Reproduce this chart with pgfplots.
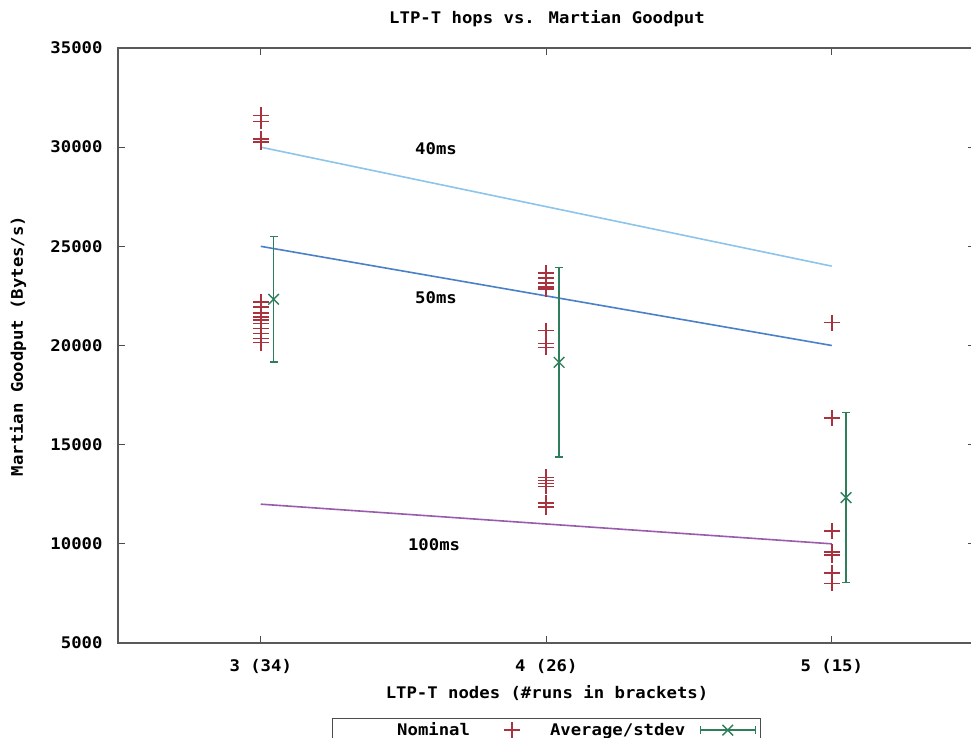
\documentclass[border=0pt]{standalone}
\usepackage{fontspec}
\setmainfont{DejaVu Sans Mono}[FakeStretch=1.08]
\usepackage{pgfplots}
\pgfplotsset{compat=1.18}
\definecolor{nomred}{HTML}{A8323E}
\definecolor{avggreen}{HTML}{2E7D5B}
\definecolor{c40}{HTML}{8CC4EC}
\definecolor{c50}{HTML}{4A80C8}
\definecolor{c100}{HTML}{9A5AAE}
\pgfplotsset{
  nomleg/.style={legend image code/.code={
    \path[draw=none] (0pt,0pt) -- (80pt,0pt);
    \draw[##1, only marks] plot coordinates {(42pt,0pt)};}},
  avgleg/.style={legend image code/.code={
    \path[draw=none] (0pt,0pt) -- (75pt,0pt);
    \draw[avggreen, line width=1.4pt] (15pt,-4pt) -- (15pt,4pt) (15pt,0pt) -- (70pt,0pt) (70pt,-4pt) -- (70pt,4pt);
    \draw[##1, only marks] plot coordinates {(42.5pt,0pt)};}},
}
\begin{document}
\fontsize{16}{19}\selectfont\bfseries
\begin{tikzpicture}
\useasboundingbox (0pt,0pt) rectangle (971pt,738pt);
\begin{axis}[
  at={(118pt,95pt)}, anchor=south west,
  scale only axis, width=856.5pt, height=595pt,
  xmin=2.5, xmax=5.5, ymin=5000, ymax=35000,
  xtick={3,4,5}, xticklabels={3 (34),4 (26),5 (15)},
  ytick={5000,10000,15000,20000,25000,30000,35000},
  scaled y ticks=false,
  /pgf/number format/assume math mode=true,
  yticklabel style={/pgf/number format/set thousands separator={}, xshift=-10pt},
  xticklabel style={yshift=-11pt},
  tick align=inside, major tick length=7pt,
  tick style={black!70, line width=1pt},
  axis line style={black!65, line width=1.2pt},
  legend plot pos=right,
  legend columns=2,
  legend style={at={(0.5,-0.126)}, anchor=north, draw=black!70, line width=1pt,
    font=\fontsize{16}{19}\selectfont\bfseries,
    /tikz/column sep=0pt,
    nodes={inner xsep=0pt},
    inner xsep=0pt, inner ysep=2pt},
]
\addplot[forget plot, color=c40, line width=1.6pt] coordinates {(3,30000) (5,24000)};
\addplot[forget plot, color=c50, line width=1.6pt] coordinates {(3,25000) (5,20000)};
\addplot[forget plot, color=c100, line width=1.6pt] coordinates {(3,12000) (5,10000)};
\addplot[only marks, mark=+, mark size=8pt, color=nomred, draw=nomred, line width=1.6pt,
  mark options={draw=nomred, solid}, nomleg]
  coordinates {
  (3,31600) (3,31300) (3,30400) (3,30250)
  (3,22200) (3,21950) (3,21650) (3,21450) (3,21300) (3,21100) (3,20850) (3,20600) (3,20350) (3,20150)
  (4,23650) (4,23400) (4,23150) (4,22950) (4,22850)
  (4,20750) (4,20100) (4,19900)
  (4,13350) (4,13200) (4,13050) (4,12900) (4,12050) (4,11850)
  (5,21150) (5,16350) (5,10650) (5,9600) (5,9450) (5,8550) (5,8500) (5,8000)
  };
\addlegendentry{\hspace*{65pt}Nominal}
\addplot[only marks, mark=x, mark size=7.5pt, color=avggreen, draw=avggreen, line width=1.4pt,
  mark options={draw=avggreen, solid}, avgleg,
  error bars/.cd, y dir=both, y explicit,
  error bar style={line width=1.4pt, draw=avggreen},
  error mark options={rotate=90, mark size=4pt, line width=1.4pt, draw=avggreen}]
  coordinates {
  (3.045,22330) +- (0,3170)
  (4.045,19150) +- (0,4780)
  (5.05,12330) +- (0,4280)
  };
\addlegendentry{Average/stdev}
\node at (axis cs:3.614,29910) {40ms};
\node at (axis cs:3.614,22395) {50ms};
\node at (axis cs:3.607,9940) {100ms};
\end{axis}
\node at (547pt,719pt) {LTP-T hops vs. Martian Goodput};
\node at (547pt,45pt) {LTP-T nodes (\#runs in brackets)};
\node[rotate=90] at (18pt,392pt) {Martian Goodput (Bytes/s)};
\end{tikzpicture}
\end{document}
